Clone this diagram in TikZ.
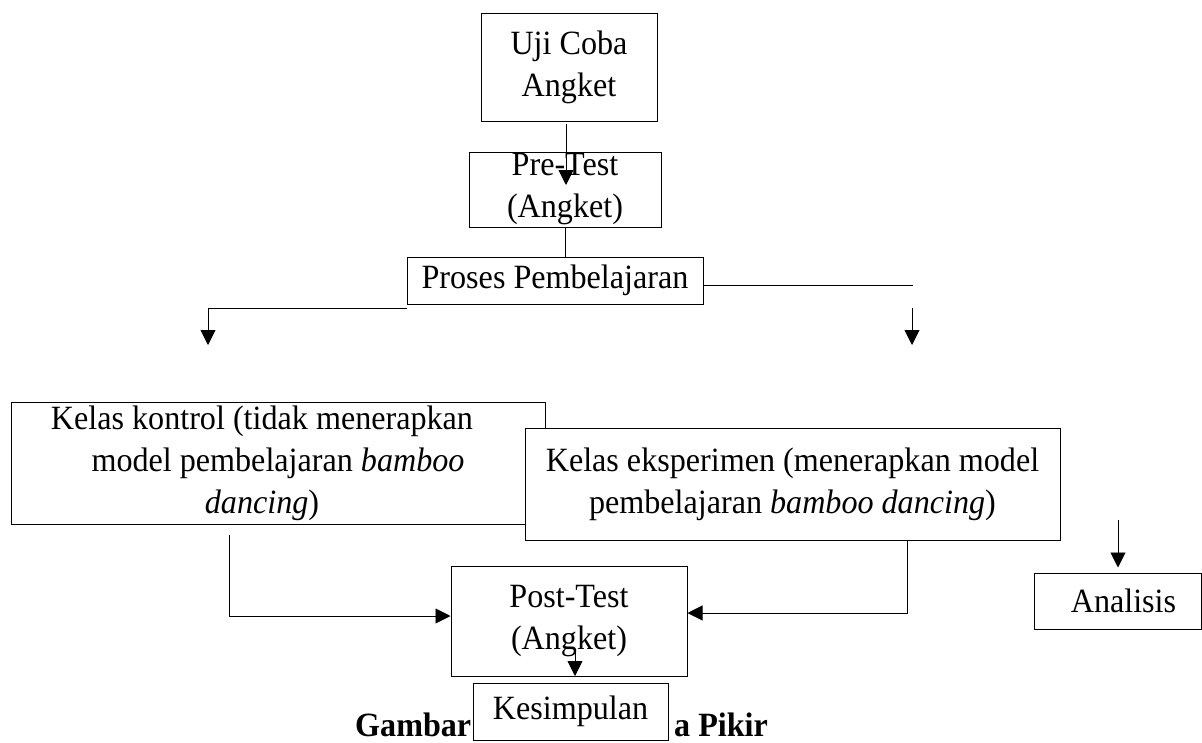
\documentclass[tikz,border=0pt]{standalone}
\usepackage{fontspec}
\setmainfont[FakeStretch=0.945]{Liberation Serif}
\usetikzlibrary{arrows.meta}
\newcommand{\tb}{\fontsize{34}{42}\selectfont}
\tikzset{
  box/.style={draw, fill=white, line width=1pt, inner sep=0pt, align=center, font=\tb},
  conn/.style={line width=0.9pt},
  arr/.style={conn, -{Triangle[length=15pt,width=15pt]}}
}
\begin{document}
\begin{tikzpicture}[x=1pt,y=-1pt]
\useasboundingbox (0,0) rectangle (1202,742);
% caption (partly hidden by the Kesimpulan box)
\node[anchor=base west, inner sep=0pt, font=\tb\bfseries] (cap) at (355,736) {Gambar\hspace{203pt}a Pikir};
% boxes
\node[box, minimum width=176pt, minimum height=108pt] (uji) at (569,67) {Uji Coba\\Angket};
\node[box, minimum width=192pt, minimum height=75pt] (pre) at (565,189.5) {Pre-Test\\(Angket)};
\node[box, minimum width=296pt, minimum height=47pt] (proses) at (555,280.5) {Proses Pembelajaran};
\node[box, minimum width=534pt, minimum height=122pt] (kontrol) at (278,463) {Kelas kontrol (tidak menerapkan\hspace*{32pt}\\model pembelajaran \textit{bamboo}\hspace*{32pt}\\\textit{dancing})\hspace*{32pt}};
\node[box, minimum width=535pt, minimum height=112pt] (eksp) at (792.5,484) {Kelas eksperimen (menerapkan model\\pembelajaran \textit{bamboo dancing})};
\node[box, minimum width=236pt, minimum height=110pt] (post) at (569,621) {Post-Test\\(Angket)};
\node[box, minimum width=195pt, minimum height=57pt] (kes) at (570.5,711.5) {Kesimpulan};
\node[box, minimum width=167pt, minimum height=56pt] (anal) at (1117.5,601) {\hspace*{12pt}Analisis};
% free ends
\coordinate (u1) at (566,124);
\coordinate (u2) at (566,185);
\coordinate (lt) at (208,345);
\coordinate (rt) at (913,285);
\coordinate (r1) at (912,308);
\coordinate (r2) at (912,345);
\coordinate (k1) at (229,535);
\coordinate (e1) at (907,540);
\coordinate (p1) at (575,650);
\coordinate (p2) at (575,676);
\coordinate (a1) at (1118,520);
% connectors
\draw[arr] (u1) -- (u2);
\draw[conn] (pre.south) -- (pre.south |- proses.north);
\draw[arr] ([yshift=-4pt]proses.south west) -| (lt);
\draw[conn] ([yshift=-4.5pt]proses.east) -- (rt);
\draw[arr] (r1) -- (r2);
\draw[arr] (k1) |- ([yshift=5pt]post.west);
\draw[arr] (e1) |- ([yshift=8pt]post.east);
\draw[arr] (p1) -- (p2);
\draw[arr] (a1) -- ([yshift=5pt]anal.north -| a1);
\end{tikzpicture}
\end{document}
